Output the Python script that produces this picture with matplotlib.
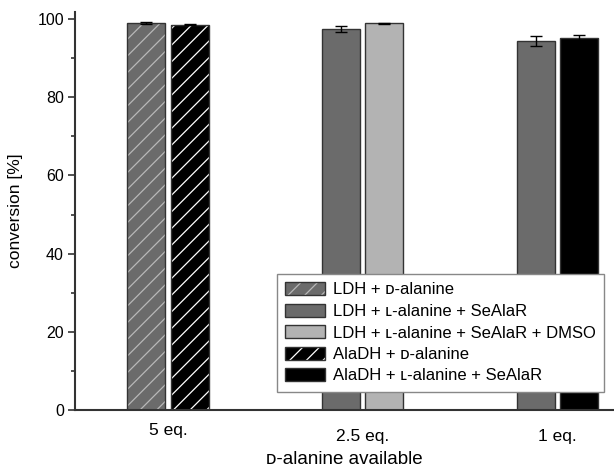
import numpy as np
import matplotlib
matplotlib.use("Agg")
import matplotlib.pyplot as plt
import matplotlib.transforms as mtransforms
from matplotlib.patches import Patch
from matplotlib.ticker import MultipleLocator

plt.rcParams['font.family'] = ['Liberation Sans', 'DejaVu Sans']
plt.rcParams['hatch.linewidth'] = 0.9

categories = ['5 eq.', '2.5 eq.', '1 eq.']
series_names = ['LDH + ᴅ-alanine',
                'LDH + ʟ-alanine + SeAlaR',
                'LDH + ʟ-alanine + SeAlaR + DMSO',
                'AlaDH + ᴅ-alanine',
                'AlaDH + ʟ-alanine + SeAlaR']
ldh_d = [99.0, np.nan, np.nan]
ldh_l = [np.nan, 97.5, 94.4]
ldh_l_dmso = [np.nan, 98.9, np.nan]
aladh_d = [98.6, np.nan, np.nan]
aladh_l = [np.nan, np.nan, 95.1]
ldh_d_err = [0.2, np.nan, np.nan]
ldh_l_err = [np.nan, 0.7, 1.3]
ldh_l_dmso_err = [np.nan, 0.15, np.nan]
aladh_d_err = [0.1, np.nan, np.nan]
aladh_l_err = [np.nan, np.nan, 0.9]

values = [ldh_d, ldh_l, ldh_l_dmso, aladh_d, aladh_l]
errors = [ldh_d_err, ldh_l_err, ldh_l_dmso_err, aladh_d_err, aladh_l_err]
facecolors = ['#6b6b6b', '#6b6b6b', '#b3b3b3', '#000000', '#000000']
hatchcolors = ['#b8b8b8', None, None, '#ffffff', None]
slots = [-1, -1, 1, 1, 1]

fig = plt.figure(figsize=(6.14, 4.71), dpi=100)
ax = fig.add_axes([75/614, 61/471, 1 - 75/614, (410-12)/471])

x = np.arange(len(categories))
width = 0.195
off = 0.111
edge = '#333333'
handles = []
for vals, errs, fc, hc, s, name in zip(values, errors, facecolors, hatchcolors, slots, series_names):
    xpos = x + s * off
    if hc is not None:
        ax.bar(xpos, vals, width, color=fc, edgecolor=hc, hatch='//', linewidth=0, zorder=2)
        ax.bar(xpos, vals, width, facecolor='none', edgecolor=edge, linewidth=1.0, zorder=3)
        h = (Patch(facecolor=fc, edgecolor=hc, hatch='//', linewidth=0),
             Patch(facecolor='none', edgecolor=edge, linewidth=1.0))
    else:
        ax.bar(xpos, vals, width, color=fc, edgecolor=edge, linewidth=1.0, zorder=2)
        h = Patch(facecolor=fc, edgecolor=edge, linewidth=1.0)
    ax.errorbar(xpos, vals, yerr=errs, fmt='none', ecolor='black', elinewidth=1.0,
                capsize=4, capthick=1.0, zorder=4)
    handles.append(h)

ax.set_ylim(0, 101.8)
ax.set_xlim(-0.477, 2.29)
ax.spines['top'].set_visible(False)
ax.spines['right'].set_visible(False)
for sp in ['left', 'bottom']:
    ax.spines[sp].set_linewidth(1.5)
    ax.spines[sp].set_color('#333333')
ax.yaxis.set_major_locator(MultipleLocator(20))
ax.yaxis.set_minor_locator(MultipleLocator(10))
ax.tick_params(axis='y', which='major', length=5, width=1.2, color='#333333', labelsize=11.5, pad=3)
ax.tick_params(axis='y', which='minor', length=3, width=1.2, color='#333333')
ax.set_xticks(x)
ax.set_xticklabels(categories)
ax.tick_params(axis='x', length=0, labelsize=12.5, pad=9)
for i, lab in enumerate(ax.get_xticklabels()):
    if i > 0:
        lab.set_transform(lab.get_transform() +
                          mtransforms.ScaledTranslation(0, -5/72, fig.dpi_scale_trans))

ax.set_ylabel('conversion [%]', fontsize=12.5, labelpad=10)
ax.set_xlabel('ᴅ-alanine available', fontsize=13.5, labelpad=5)

leg = fig.legend(handles, series_names, loc='upper left',
                 bbox_to_anchor=(277/614, 1 - 274/471), fontsize=12,
                 frameon=True, fancybox=False, edgecolor='#888888', framealpha=1.0,
                 handlelength=2.4, handleheight=0.8, handletextpad=0.45,
                 labelspacing=0.38, borderpad=0.5, borderaxespad=0)
leg.get_frame().set_linewidth(1.0)
leg._legend_box.align = 'left'

fig.savefig('out.png', dpi=100)
